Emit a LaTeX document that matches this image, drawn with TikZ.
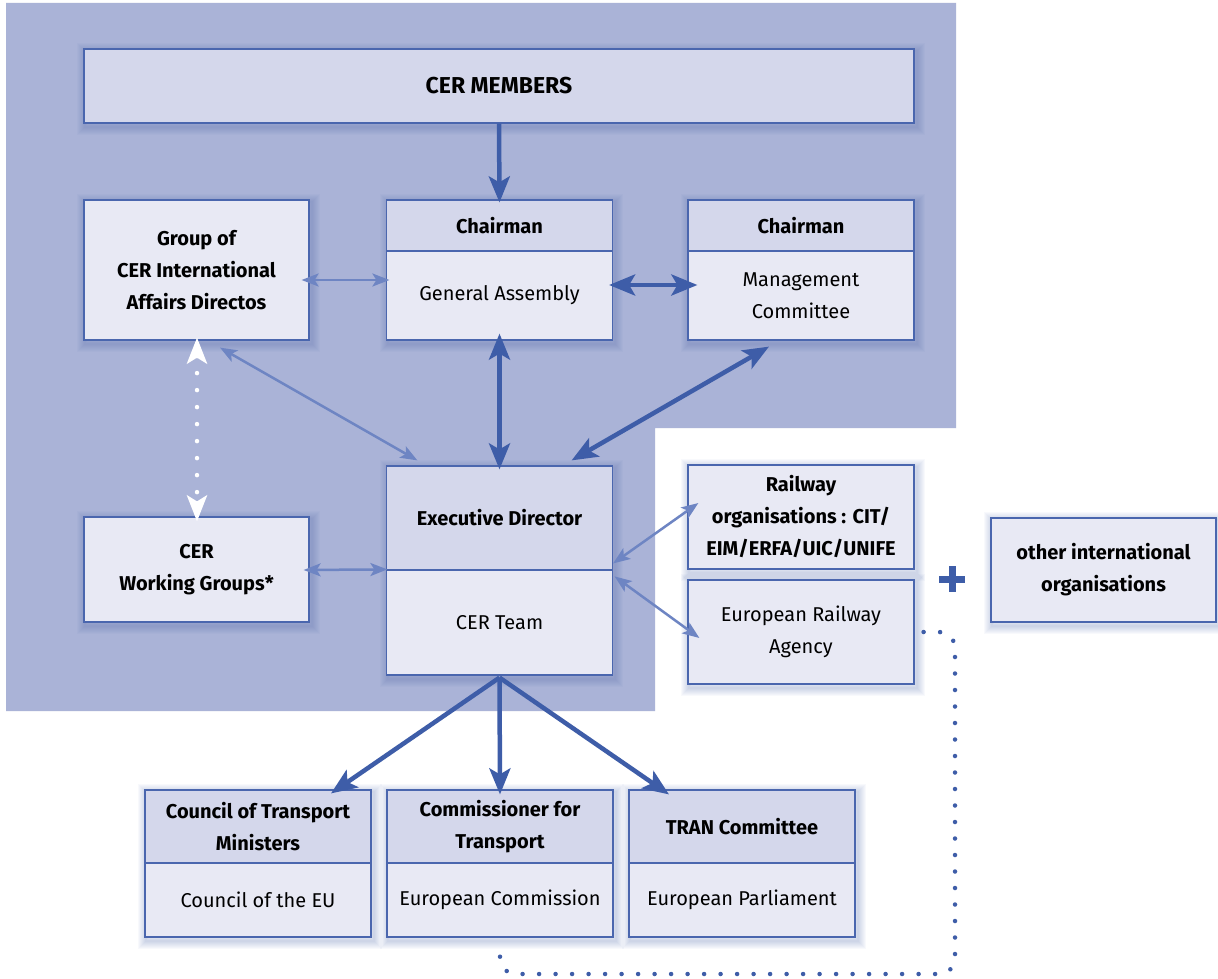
\documentclass[tikz,border=0pt]{standalone}
\usepackage{fontspec}
\setmainfont{Fira Sans}
\usetikzlibrary{arrows.meta}
\definecolor{panel}{HTML}{AAB3D7}
\definecolor{hdr}{HTML}{D4D7EB}
\definecolor{bodyc}{HTML}{E8E9F4}
\definecolor{edge}{HTML}{4A66AE}
\definecolor{thickc}{HTML}{3E5DA8}
\definecolor{thinc}{HTML}{6E85C3}
\newcommand{\hfnt}{\fontsize{20}{32}\selectfont\bfseries}
\newcommand{\rfnt}{\fontsize{20}{32}\selectfont}
\newcommand{\boxglow}[2]{%
  \foreach \w in {2,4,6,8,10,12,14,16}{\draw[line width=\w pt, draw=edge, draw opacity=0.035] ([shift={(2,3)}]#1) rectangle ([shift={(2,3)}]#2);}}
\pgfdeclarelayer{bg}\pgfdeclarelayer{shad}\pgfsetlayers{bg,shad,main}
\begin{document}
\begin{tikzpicture}[x=1pt,y=-1pt,
  every node/.style={inner sep=0pt, align=center, text=black},
  hd/.style={draw=edge, line width=1.2pt, fill=hdr, font=\hfnt},
  bd/.style={draw=edge, line width=1.2pt, fill=bodyc, font=\rfnt},
  bdb/.style={bd, font=\hfnt},
  thkarr/.style={draw=thickc, line width=4.5pt, arrows={-Stealth[length=26pt,width=21pt,inset=6pt]}},
  thkdbl/.style={draw=thickc, line width=4.5pt, arrows={Stealth[length=26pt,width=21pt,inset=6pt]-Stealth[length=26pt,width=21pt,inset=6pt]}},
  thndbl/.style={draw=thinc, line width=2.5pt, arrows={Stealth[length=17pt,width=13pt,inset=4pt]-Stealth[length=17pt,width=13pt,inset=4pt]}},
  whdot/.style={draw=white, line width=4.5pt, line cap=round, dash pattern=on 0pt off 17pt, arrows={Stealth[length=26pt,width=20pt,inset=6pt]-Stealth[length=26pt,width=20pt,inset=6pt]}},
  bldot/.style={draw=thickc, line width=4.5pt, line cap=round, dash pattern=on 0pt off 16.5pt}
]
\useasboundingbox (0,0) rectangle (1218,979);
\begin{pgfonlayer}{bg}
  \fill[white] (0,0) rectangle (1218,979);
  \fill[panel] (6,3) -- (956,3) -- (956,428) -- (655,428) -- (655,711) -- (6,711) -- cycle;
\end{pgfonlayer}

% boxes
\node[hd, minimum width=830pt, minimum height=74pt, font=\fontsize{23}{32}\selectfont\bfseries] (members) at (499,86) {CER MEMBERS};
\node[bdb, minimum width=225pt, minimum height=140pt] (group) at (196.5,270) {Group of\\CER International\\Affairs Directos};
\node[hd, minimum width=226pt, minimum height=51pt] (gaH) at (499.5,225.5) {Chairman};
\node[bd, minimum width=226pt, minimum height=89pt] (gaB) at (499.5,295.5) {General Assembly};
\node[hd, minimum width=226pt, minimum height=51pt] (mcH) at (801,225.5) {Chairman};
\node[bd, minimum width=226pt, minimum height=89pt] (mcB) at (801,295.5) {Management\\Committee};
\node[bdb, minimum width=225pt, minimum height=105pt] (wg) at (196.5,569.5) {CER\\Working Groups*};
\node[hd, minimum width=226pt, minimum height=104pt] (edH) at (499.5,518) {Executive Director};
\node[bd, minimum width=226pt, minimum height=105pt] (edB) at (499.5,622.5) {CER Team};
\node[bdb, minimum width=226pt, minimum height=104pt] (rail) at (801,517) {Railway\\organisations : CIT/\\EIM/ERFA/UIC/UNIFE};
\node[bd, minimum width=226pt, minimum height=104pt] (era) at (801,632) {European Railway\\Agency};
\node[bdb, minimum width=225pt, minimum height=104pt] (other) at (1103.5,570) {other international\\organisations};
\node[hd, minimum width=226pt, minimum height=73pt] (coH) at (258,826.5) {Council of Transport\\Ministers};
\node[bd, minimum width=226pt, minimum height=74pt] (coB) at (258,900) {Council of the EU};
\node[hd, minimum width=226pt, minimum height=73pt] (cmH) at (500,826.5) {Commissioner for\\Transport};
\node[bd, minimum width=226pt, minimum height=74pt] (cmB) at (500,900) {European Commission};
\node[hd, minimum width=226pt, minimum height=73pt] (trH) at (742,826.5) {TRAN Committee};
\node[bd, minimum width=226pt, minimum height=74pt] (trB) at (742,900) {European Parliament};

\begin{pgfonlayer}{shad}
  \boxglow{members.north west}{members.south east}
  \boxglow{group.north west}{group.south east}
  \boxglow{gaH.north west}{gaB.south east}
  \boxglow{mcH.north west}{mcB.south east}
  \boxglow{wg.north west}{wg.south east}
  \boxglow{edH.north west}{edB.south east}
  \boxglow{rail.north west}{rail.south east}
  \boxglow{era.north west}{era.south east}
  \boxglow{other.north west}{other.south east}
  \boxglow{coH.north west}{coB.south east}
  \boxglow{cmH.north west}{cmB.south east}
  \boxglow{trH.north west}{trB.south east}
\end{pgfonlayer}

% thick connectors
\draw[thkarr] (members.south) -- ([shift={(0,3)}]gaH.north);
\draw[thkdbl] ([shift={(-4,-10.5)}]gaB.east) -- ([shift={(10,-10.5)}]mcB.west);
\draw[thkdbl] ([shift={(0,-7)}]gaB.south) -- ([shift={(0,4)}]edH.north);
\draw[thkdbl] ([shift={(-32,6)}]mcB.south) -- ([shift={(-41.5,-5)}]edH.north east);
\draw[thkarr] ([shift={(0,2)}]edB.south) -- ([shift={(73,4)}]coH.north);
\draw[thkarr] ([shift={(0,2)}]edB.south) -- ([shift={(0,5)}]cmH.north);
\draw[thkarr] ([shift={(0,2)}]edB.south) -- ([shift={(-73,5)}]trH.north);

% thin connectors
\draw[thndbl] ([shift={(-8,10)}]group.east) -- ([shift={(3.5,-15.5)}]gaB.west);
\draw[thndbl] ([shift={(23.5,7)}]group.south) -- ([shift={(31.5,-5)}]edH.north west);
\draw[thndbl] ([shift={(-6,0.5)}]wg.east) -- ([shift={(1.5,0)}]edB.north west);
\draw[thndbl] ([shift={(0,-6)}]edB.north east) -- ([shift={(11,-14)}]rail.west);
\draw[thndbl] ([shift={(1.5,7)}]edB.north east) -- ([shift={(12,6)}]era.west);

% white dotted double arrow
\draw[whdot] ([shift={(0.5,-3)}]group.south) -- ([shift={(0.5,5)}]wg.north);

% blue dotted line
\coordinate (dA) at (955,632);
\coordinate (dB) at (955,974);
\coordinate (dC) at (500,974);
\draw[bldot, rounded corners=16pt] ([xshift=9pt]era.east) -- (dA) -- (dB) -- (dC) -- ([yshift=-17pt]cmB.south);

% plus sign
\draw[thickc, line width=7pt] (939,579) -- (965,579) (952,566) -- (952,592);
\end{tikzpicture}
\end{document}
